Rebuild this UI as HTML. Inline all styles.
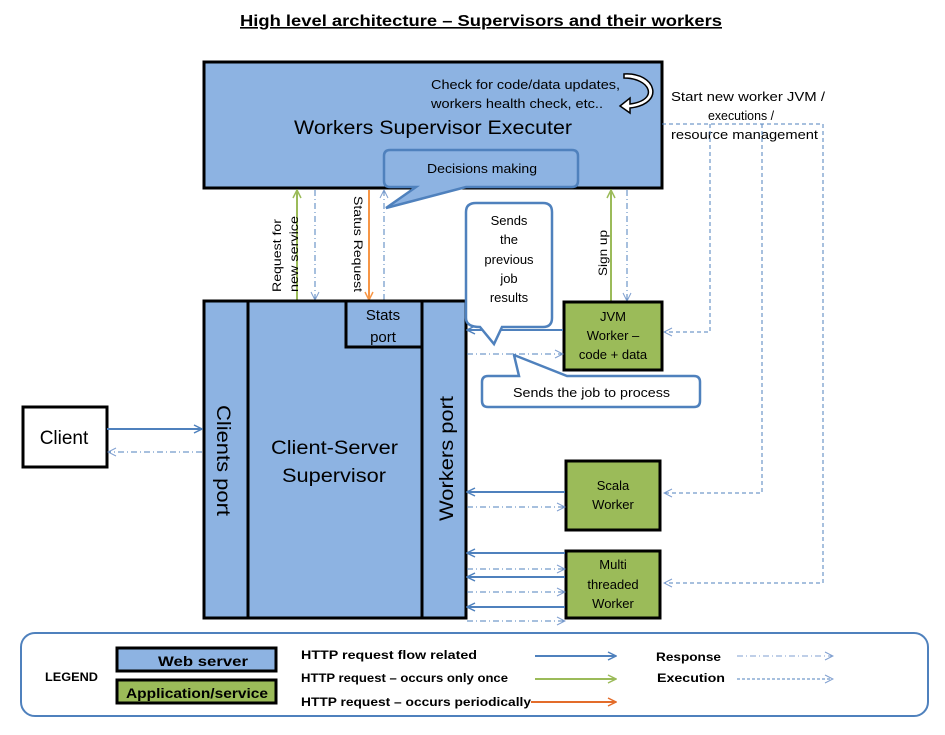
<!DOCTYPE html>
<html><head><meta charset="utf-8"><style>
html,body{margin:0;padding:0;background:#fff;}
svg{display:block;font-family:"Liberation Sans",sans-serif;}
</style></head><body>
<svg width="945" height="735" viewBox="0 0 945 735" xmlns="http://www.w3.org/2000/svg">
<defs>
<marker id="ab" viewBox="0 0 10 10" refX="9" refY="5" markerWidth="10" markerHeight="10" markerUnits="userSpaceOnUse" orient="auto"><path d="M1,1 L9,5 L1,9" fill="none" stroke="#4f81bd" stroke-width="1.5"/></marker>
<marker id="al" viewBox="0 0 10 10" refX="9" refY="5" markerWidth="10" markerHeight="10" markerUnits="userSpaceOnUse" orient="auto"><path d="M1,1 L9,5 L1,9" fill="none" stroke="#7f9fd0" stroke-width="1"/></marker>
<marker id="ag" viewBox="0 0 10 10" refX="9" refY="5" markerWidth="10" markerHeight="10" markerUnits="userSpaceOnUse" orient="auto"><path d="M1,1 L9,5 L1,9" fill="none" stroke="#9bbb59" stroke-width="1.5"/></marker>
<marker id="ao" viewBox="0 0 10 10" refX="9" refY="5" markerWidth="10" markerHeight="10" markerUnits="userSpaceOnUse" orient="auto"><path d="M1,1 L9,5 L1,9" fill="none" stroke="#f79646" stroke-width="1.5"/></marker>
<marker id="ar" viewBox="0 0 10 10" refX="9" refY="5" markerWidth="10" markerHeight="10" markerUnits="userSpaceOnUse" orient="auto"><path d="M1,1 L9,5 L1,9" fill="none" stroke="#e36c2a" stroke-width="1.5"/></marker>
</defs>

<text x="240" y="26" font-size="16" font-weight="bold" textLength="482" lengthAdjust="spacingAndGlyphs" text-decoration="underline">High level architecture – Supervisors and their workers</text>

<!-- WSE -->
<rect x="204" y="62" width="458" height="126" fill="#8db3e2" stroke="#000" stroke-width="3"/>
<text x="294" y="134" font-size="19" textLength="278" lengthAdjust="spacingAndGlyphs">Workers Supervisor Executer</text>
<text x="431" y="89" font-size="13" textLength="189" lengthAdjust="spacingAndGlyphs">Check for code/data updates,</text>
<text x="431" y="108" font-size="13" textLength="172" lengthAdjust="spacingAndGlyphs">workers health check, etc..</text>
<path d="M624,78 C650,78 660,100 630,104 L630,98 L620,106 L630,113 L630,108 C666,104 656,72 624,74 Z" fill="#fff" stroke="#000" stroke-width="1.5"/>
<text x="671" y="101" font-size="13" textLength="154" lengthAdjust="spacingAndGlyphs">Start new worker JVM /</text>
<text x="708" y="120" font-size="13" textLength="66" lengthAdjust="spacingAndGlyphs">executions /</text>
<text x="671" y="139" font-size="13" textLength="147" lengthAdjust="spacingAndGlyphs">resource management</text>

<!-- decisions callout -->
<path d="M390,150 L572,150 Q578,150 578,156 L578,181 Q578,187 572,187 L466,187 L386,208 L416,187 L390,187 Q384,187 384,181 L384,156 Q384,150 390,150 Z" fill="#8db3e2" stroke="#4f81bd" stroke-width="2.5"/>
<text x="427" y="173" font-size="13" textLength="110" lengthAdjust="spacingAndGlyphs">Decisions making</text>

<!-- vertical arrows -->
<line x1="297" y1="300" x2="297" y2="190" stroke="#9bbb59" stroke-width="2" marker-end="url(#ag)"/>
<line x1="315" y1="190" x2="315" y2="300" stroke="#4f81bd" stroke-width="1" stroke-dasharray="6,3,1,3" marker-end="url(#al)"/>
<line x1="369" y1="190" x2="369" y2="300" stroke="#f79646" stroke-width="2" marker-end="url(#ao)"/>
<line x1="384" y1="300" x2="384" y2="190" stroke="#4f81bd" stroke-width="1" stroke-dasharray="6,3,1,3" marker-end="url(#al)"/>
<line x1="611" y1="301" x2="611" y2="190" stroke="#9bbb59" stroke-width="2" marker-end="url(#ag)"/>
<line x1="627" y1="190" x2="627" y2="301" stroke="#4f81bd" stroke-width="1" stroke-dasharray="6,3,1,3" marker-end="url(#al)"/>
<text transform="translate(281,292) rotate(-90)" font-size="12" textLength="73" lengthAdjust="spacingAndGlyphs">Request for</text>
<text transform="translate(298,292) rotate(-90)" font-size="12" textLength="76" lengthAdjust="spacingAndGlyphs">new service</text>
<text transform="translate(354,196) rotate(90)" font-size="12" textLength="96" lengthAdjust="spacingAndGlyphs">Status Request</text>
<text transform="translate(607,276) rotate(-90)" font-size="12" textLength="46" lengthAdjust="spacingAndGlyphs">Sign up</text>

<!-- execution dashed -->
<g fill="none" stroke="#4f81bd" stroke-width="1" stroke-dasharray="4,3">
<polyline points="662,124 823,124 823,583 664,583" marker-end="url(#al)"/>
<polyline points="762,124 762,493 664,493" marker-end="url(#al)"/>
<polyline points="710,124 710,332 664,332" marker-end="url(#al)"/>
</g>

<!-- client-server -->
<rect x="204" y="301" width="262" height="317" fill="#8db3e2" stroke="#000" stroke-width="3"/>
<line x1="248" y1="301" x2="248" y2="618" stroke="#000" stroke-width="3"/>
<line x1="422" y1="301" x2="422" y2="618" stroke="#000" stroke-width="3"/>
<rect x="346" y="301" width="76" height="46" fill="#8db3e2" stroke="#000" stroke-width="3"/>
<text x="383" y="320" font-size="15" text-anchor="middle">Stats</text>
<text x="383" y="342" font-size="15" text-anchor="middle">port</text>
<text x="271" y="454" font-size="19" textLength="127" lengthAdjust="spacingAndGlyphs">Client-Server</text>
<text x="282" y="482" font-size="19" textLength="104" lengthAdjust="spacingAndGlyphs">Supervisor</text>
<text transform="translate(217,405) rotate(90)" font-size="19" textLength="111" lengthAdjust="spacingAndGlyphs">Clients port</text>
<text transform="translate(453,521) rotate(-90)" font-size="19" textLength="125" lengthAdjust="spacingAndGlyphs">Workers port</text>

<!-- client -->
<rect x="23" y="407" width="84" height="60" fill="#fff" stroke="#000" stroke-width="3"/>
<text x="64" y="444" font-size="19" text-anchor="middle">Client</text>
<line x1="107" y1="429" x2="202" y2="429" stroke="#4f81bd" stroke-width="2" marker-end="url(#ab)"/>
<line x1="202" y1="452" x2="108" y2="452" stroke="#4f81bd" stroke-width="1" stroke-dasharray="6,3,1,3" marker-end="url(#al)"/>

<!-- workers -->
<rect x="564" y="302" width="98" height="68" fill="#9bbb59" stroke="#000" stroke-width="3"/>
<text x="613" y="321" font-size="13" text-anchor="middle">JVM</text>
<text x="613" y="340" font-size="13" text-anchor="middle">Worker –</text>
<text x="613" y="359" font-size="13" text-anchor="middle">code + data</text>
<rect x="566" y="461" width="94" height="69" fill="#9bbb59" stroke="#000" stroke-width="3"/>
<text x="613" y="490" font-size="13" text-anchor="middle">Scala</text>
<text x="613" y="509" font-size="13" text-anchor="middle">Worker</text>
<rect x="566" y="551" width="94" height="67" fill="#9bbb59" stroke="#000" stroke-width="3"/>
<text x="613" y="569" font-size="13" text-anchor="middle">Multi</text>
<text x="613" y="589" font-size="13" text-anchor="middle">threaded</text>
<text x="613" y="608" font-size="13" text-anchor="middle">Worker</text>

<g stroke="#4f81bd">
<line x1="563" y1="330" x2="467" y2="330" stroke-width="2" marker-end="url(#ab)"/>
<line x1="467" y1="354" x2="563" y2="354" stroke-width="1" stroke-dasharray="6,3,1,3" marker-end="url(#al)"/>
<line x1="565" y1="492" x2="467" y2="492" stroke-width="2" marker-end="url(#ab)"/>
<line x1="467" y1="507" x2="565" y2="507" stroke-width="1" stroke-dasharray="6,3,1,3" marker-end="url(#al)"/>
<line x1="565" y1="553" x2="467" y2="553" stroke-width="2" marker-end="url(#ab)"/>
<line x1="467" y1="569" x2="565" y2="569" stroke-width="1" stroke-dasharray="6,3,1,3" marker-end="url(#al)"/>
<line x1="565" y1="577" x2="467" y2="577" stroke-width="2" marker-end="url(#ab)"/>
<line x1="467" y1="592" x2="565" y2="592" stroke-width="1" stroke-dasharray="6,3,1,3" marker-end="url(#al)"/>
<line x1="565" y1="607" x2="467" y2="607" stroke-width="2" marker-end="url(#ab)"/>
<line x1="467" y1="621" x2="565" y2="621" stroke-width="1" stroke-dasharray="6,3,1,3" marker-end="url(#al)"/>
</g>

<!-- callout previous job -->
<path d="M476,203 L543,203 Q552,203 552,212 L552,318 Q552,327 543,327 L502,327 L494,344 L480,327 Q466,327 466,318 L466,212 Q466,203 476,203 Z" fill="#fff" stroke="#4f81bd" stroke-width="2.5"/>
<text x="509" y="225" font-size="13" text-anchor="middle">Sends</text>
<text x="509" y="244" font-size="13" text-anchor="middle">the</text>
<text x="509" y="264" font-size="13" text-anchor="middle">previous</text>
<text x="509" y="283" font-size="13" text-anchor="middle">job</text>
<text x="509" y="302" font-size="13" text-anchor="middle">results</text>

<!-- callout job to process -->
<path d="M488,376 L519,376 L514,355 L567,376 L694,376 Q700,376 700,382 L700,401 Q700,407 694,407 L488,407 Q482,407 482,401 L482,382 Q482,376 488,376 Z" fill="#fff" stroke="#4f81bd" stroke-width="2.5"/>
<text x="513" y="397" font-size="13" textLength="157" lengthAdjust="spacingAndGlyphs">Sends the job to process</text>

<!-- legend -->
<rect x="21" y="633" width="907" height="83" rx="14" fill="#fff" stroke="#4f81bd" stroke-width="2"/>
<text x="45" y="681" font-size="12" font-weight="bold" textLength="53" lengthAdjust="spacingAndGlyphs">LEGEND</text>
<rect x="117" y="648" width="159" height="23" fill="#8db3e2" stroke="#000" stroke-width="3"/>
<text x="158" y="666" font-size="14" font-weight="bold" textLength="90" lengthAdjust="spacingAndGlyphs">Web server</text>
<rect x="117" y="680" width="159" height="23" fill="#9bbb59" stroke="#000" stroke-width="3"/>
<text x="126" y="698" font-size="14" font-weight="bold" textLength="142" lengthAdjust="spacingAndGlyphs">Application/service</text>
<text x="301" y="659" font-size="12" font-weight="bold" textLength="176" lengthAdjust="spacingAndGlyphs">HTTP request flow related</text>
<text x="301" y="682" font-size="12" font-weight="bold" textLength="207" lengthAdjust="spacingAndGlyphs">HTTP request – occurs only once</text>
<text x="301" y="706" font-size="12" font-weight="bold" textLength="230" lengthAdjust="spacingAndGlyphs">HTTP request – occurs periodically</text>
<line x1="535" y1="656" x2="616" y2="656" stroke="#4f81bd" stroke-width="2" marker-end="url(#ab)"/>
<line x1="535" y1="679" x2="616" y2="679" stroke="#9bbb59" stroke-width="2" marker-end="url(#ag)"/>
<line x1="531" y1="702" x2="616" y2="702" stroke="#e36c2a" stroke-width="2" marker-end="url(#ar)"/>
<text x="656" y="661" font-size="12" font-weight="bold" textLength="65" lengthAdjust="spacingAndGlyphs">Response</text>
<text x="657" y="682" font-size="12" font-weight="bold" textLength="68" lengthAdjust="spacingAndGlyphs">Execution</text>
<line x1="737" y1="656" x2="833" y2="656" stroke="#7f9fd0" stroke-width="1" stroke-dasharray="6,3,1,3" marker-end="url(#al)"/>
<line x1="737" y1="679" x2="833" y2="679" stroke="#4f81bd" stroke-width="1" stroke-dasharray="3,2" marker-end="url(#al)"/>
</svg>
</body></html>
